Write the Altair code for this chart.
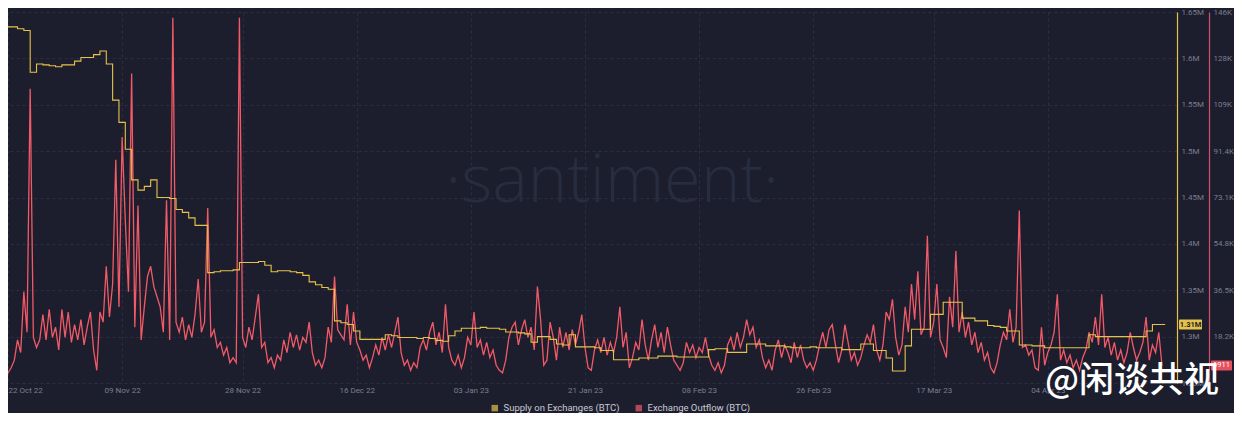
import altair as alt
import pandas as pd

START = "2022-10-21 12:00"
SERIES = ["Supply on Exchanges (BTC)", "Exchange Outflow (BTC)"]
COLORS = ["#e6c24b", "#f25a68"]

# Supply on exchanges (millions of BTC), one value per day
supply_m = [
    1.634, 1.634, 1.632, 1.630, 1.585, 1.594, 1.593, 1.592, 1.591, 1.593,
    1.593, 1.597, 1.601, 1.601, 1.604, 1.608, 1.594, 1.555, 1.531, 1.502,
    1.469, 1.458, 1.462, 1.469, 1.450, 1.450, 1.449, 1.437, 1.434, 1.428,
    1.420, 1.420, 1.369, 1.370, 1.371, 1.371, 1.372, 1.380, 1.380, 1.380,
    1.381, 1.377, 1.370, 1.371, 1.371, 1.370, 1.369, 1.366, 1.359, 1.356,
    1.353, 1.351, 1.317, 1.315, 1.313, 1.306, 1.297, 1.297, 1.297, 1.297,
    1.302, 1.301, 1.299, 1.299, 1.299, 1.298, 1.299, 1.298, 1.296, 1.295,
    1.301, 1.306, 1.309, 1.309, 1.309, 1.310, 1.309, 1.309, 1.308, 1.305,
    1.305, 1.304, 1.303, 1.294, 1.300, 1.300, 1.297, 1.292, 1.291, 1.302,
    1.289, 1.289, 1.289, 1.288, 1.285, 1.285, 1.275, 1.275, 1.275, 1.275,
    1.277, 1.277, 1.277, 1.279, 1.279, 1.279, 1.278, 1.278, 1.278, 1.278,
    1.278, 1.286, 1.287, 1.287, 1.283, 1.283, 1.283, 1.292, 1.292, 1.292,
    1.290, 1.290, 1.290, 1.289, 1.288, 1.288, 1.288, 1.289, 1.288, 1.288,
    1.288, 1.288, 1.286, 1.286, 1.286, 1.292, 1.292, 1.285, 1.285, 1.277,
    1.263, 1.263, 1.290, 1.308, 1.308, 1.308, 1.324, 1.324, 1.337, 1.337,
    1.337, 1.320, 1.320, 1.317, 1.317, 1.312, 1.311, 1.310, 1.306, 1.306,
    1.291, 1.291, 1.290, 1.290, 1.288, 1.288, 1.288, 1.288, 1.288, 1.288,
    1.288, 1.302, 1.300, 1.300, 1.300, 1.300, 1.300, 1.300, 1.300, 1.300,
    1.306, 1.313, 1.313, 1.313,
]

# Exchange outflow (thousands of BTC), one value per 12 hours
outflow_k = [
    3, 4, 6, 9, 17, 12, 36, 20, 116, 18,
    14, 17, 27, 17, 29, 18, 22, 13, 29, 18,
    28, 16, 23, 17, 25, 15, 22, 28, 13, 5,
    28, 24, 46, 26, 39, 88, 30, 97, 64, 36,
    122, 22, 70, 17, 30, 42, 46, 38, 34, 30,
    20, 72, 17, 144, 24, 20, 26, 17, 23, 18,
    27, 41, 20, 24, 69, 18, 21, 14, 16, 11,
    14, 8, 10, 8, 144, 18, 14, 22, 17, 26,
    35, 14, 16, 8, 10, 6, 11, 9, 17, 12,
    20, 14, 19, 13, 18, 16, 24, 12, 7, 9,
    6, 10, 22, 16, 42, 21, 19, 17, 31, 15,
    28, 16, 13, 9, 11, 6, 10, 15, 11, 18,
    13, 19, 14, 20, 26, 12, 7, 9, 5, 8,
    6, 14, 17, 13, 20, 24, 15, 20, 12, 31,
    14, 9, 7, 11, 6, 10, 18, 15, 28, 14,
    17, 11, 16, 10, 13, 7, 5, 4, 9, 18,
    22, 24, 15, 21, 25, 18, 22, 13, 38, 25,
    7, 9, 24, 18, 9, 22, 14, 20, 13, 21,
    15, 20, 27, 14, 6, 5, 13, 17, 12, 18,
    11, 16, 12, 18, 30, 14, 20, 6, 10, 16,
    13, 25, 15, 9, 17, 23, 14, 20, 12, 22,
    15, 9, 7, 5, 8, 16, 12, 15, 10, 14,
    12, 18, 11, 7, 5, 8, 4, 7, 15, 18,
    13, 20, 14, 18, 25, 19, 22, 14, 17, 10,
    6, 9, 5, 13, 17, 10, 15, 12, 8, 16,
    10, 15, 9, 6, 8, 5, 9, 15, 20, 14,
    21, 23, 15, 8, 13, 23, 16, 9, 12, 7,
    10, 15, 19, 16, 23, 13, 9, 15, 28, 25,
    33, 18, 11, 15, 30, 20, 39, 25, 44, 19,
    22, 58, 18, 24, 39, 17, 14, 10, 34, 22,
    52, 20, 28, 18, 24, 15, 20, 12, 16, 9,
    12, 6, 4, 8, 15, 20, 17, 29, 16, 22,
    68, 14, 15, 11, 13, 6, 5, 22, 7, 12,
    15, 20, 35, 9, 13, 8, 11, 6, 9, 5,
    10, 13, 20, 16, 26, 15, 35, 14, 18, 11,
    16, 9, 13, 8, 12, 20, 14, 9, 12, 16,
    26, 9, 15, 12, 20, 6.911,
]

tick_dates = [
    "2022-10-22", "2022-11-09", "2022-11-28", "2022-12-16", "2023-01-03",
    "2023-01-21", "2023-02-08", "2023-02-26", "2023-03-17", "2023-04-04",
]
x_domain = ["2022-10-22 00:00", "2023-04-24 09:00"]
supply_ticks = [1250000, 1300000, 1350000, 1400000, 1450000,
                1500000, 1550000, 1600000, 1650000]
outflow_step = 18280
outflow_tick_labels = ["18.2K", "36.5K", "54.8K", "73.1K", "91.4K",
                       "109K", "128K", "146K"]

W, H = 1169, 371
BG = "#1c1e2d"
LABEL = "#7b7f8e"
GRID = "#2a2e40"
FONT = "Roboto"


def ms(ts):
    """UTC milliseconds for a pandas timestamp / index."""
    return (pd.to_datetime(ts).tz_localize("UTC") - pd.Timestamp("1970-01-01", tz="UTC")) // pd.Timedelta("1ms")


sup_df = pd.DataFrame({
    "t": ms(pd.date_range(START, periods=len(supply_m), freq="D")),
    "v": [m * 1e6 for m in supply_m],
})
out_df = pd.DataFrame({
    "t": ms(pd.date_range(START, periods=len(outflow_k), freq="12h")),
    "v": [k * 1000 for k in outflow_k],
})
sup_last = sup_df.tail(1)
out_last = out_df.tail(1)

x_scale = alt.Scale(
    type="utc", domain=[int(ms(pd.Timestamp(d))) for d in x_domain],
    nice=False, padding=0,
)
x_axis = alt.Axis(
    values=[int(ms(pd.Timestamp(d))) for d in tick_dates],
    labelExpr="utcFormat(datum.value, '%d %b %y')", labelColor=LABEL,
    labelFontSize=8, labelFont=FONT, domain=False, ticks=False,
    labelPadding=3, grid=True, gridColor=GRID, gridDash=[3, 3], gridWidth=1,
)
x_enc = alt.X("t:T", scale=x_scale, axis=x_axis, title=None)

sup_scale = alt.Scale(domain=[1250000, 1650000], nice=False, zero=False)
sup_axis = alt.Axis(
    orient="right", values=supply_ticks, format=".3~s", labelColor=LABEL,
    labelFontSize=8, labelFont=FONT, ticks=False, labelPadding=4,
    domainColor=COLORS[0], domainWidth=1.2, grid=True, gridColor=GRID,
    gridDash=[3, 3], gridWidth=1,
)
out_scale = alt.Scale(domain=[0, outflow_step * 8], nice=False)
label_expr = " : ".join(
    f"round(datum.value/{outflow_step})=={k + 1} ? '{lab}'"
    for k, lab in enumerate(outflow_tick_labels)
) + " : ''"
out_axis = alt.Axis(
    orient="right", offset=32,
    values=[outflow_step * (k + 1) for k in range(len(outflow_tick_labels))],
    labelExpr=label_expr, labelColor=LABEL, labelFontSize=8, labelFont=FONT,
    ticks=False, labelPadding=4, domainColor="#d2506a", domainWidth=1.2,
    grid=False,
)

color_scale = alt.Scale(domain=SERIES, range=COLORS)
legend = alt.Legend(
    orient="none", legendX=482, legendY=391, direction="horizontal",
    title=None, symbolType="square", symbolSize=42, labelColor="#c9cbd3",
    labelFontSize=9.5, labelFont=FONT, columnPadding=14, labelOffset=4,
    symbolStrokeWidth=0,
)

# legend carrier: filled squares of zero size, coloured by series
legend_layer = alt.Chart(pd.DataFrame({"s": SERIES})).mark_square(
    filled=True, size=0
).encode(
    x=alt.value(0), y=alt.value(0),
    color=alt.Color("s:N", scale=color_scale, legend=legend),
)

sup_line = alt.Chart(sup_df).mark_line(
    interpolate="step-after", strokeWidth=1.1, color=COLORS[0], clip=True
).encode(
    x=x_enc,
    y=alt.Y("v:Q", scale=sup_scale, axis=sup_axis, title=None),
)
sup_badge = alt.Chart(sup_last).mark_rect(
    color=COLORS[0], yOffset=-5, y2Offset=5, cornerRadius=1
).encode(
    x=alt.value(W + 2), x2=alt.value(W + 25),
    y=alt.Y("v:Q", scale=sup_scale, axis=sup_axis, title=None), y2="v:Q",
)
sup_text = alt.Chart(sup_last).mark_text(
    color=BG, fontSize=7.5, fontWeight="bold", font=FONT, align="center",
    baseline="middle",
).encode(
    x=alt.value(W + 13.5),
    y=alt.Y("v:Q", scale=sup_scale, axis=sup_axis, title=None),
    text=alt.Text("v:Q", format=".3~s"),
)

out_line = alt.Chart(out_df).mark_line(
    strokeWidth=1.3, color=COLORS[1], clip=True
).encode(
    x=x_enc,
    y=alt.Y("v:Q", scale=out_scale, axis=out_axis, title=None),
)
out_badge = alt.Chart(out_last).mark_rect(
    color="#e8505f", yOffset=-5, y2Offset=5, cornerRadius=1
).encode(
    x=alt.value(W + 34), x2=alt.value(W + 55),
    y=alt.Y("v:Q", scale=out_scale, axis=out_axis, title=None), y2="v:Q",
)
out_text = alt.Chart(out_last).mark_text(
    color="white", fontSize=7.5, font=FONT, align="center", baseline="middle",
).encode(
    x=alt.value(W + 44.5),
    y=alt.Y("v:Q", scale=out_scale, axis=out_axis, title=None),
    text=alt.Text("v:Q", format="d"),
)

santiment_wm = alt.Chart(pd.DataFrame({"s": ["·santiment·"]})).mark_text(
    fontSize=67, font="Open Sans", fontWeight=300, color="#282c3f",
    align="center", baseline="middle",
).encode(x=alt.value(604), y=alt.value(170), text="s:N")

baidu_wm = alt.Chart(pd.DataFrame({"s": ["@闲谈共视"]})).mark_text(
    fontSize=35, font="Noto Sans CJK SC", fontWeight=500, color="white",
    align="center", baseline="middle",
).encode(x=alt.value(1124), y=alt.value(369), text="s:N")

out_group = alt.layer(out_line, out_badge, out_text)
sup_group = alt.layer(sup_line, sup_badge, sup_text)

chart = alt.layer(
    santiment_wm, legend_layer, out_group, sup_group, baidu_wm
).resolve_scale(
    y="independent"
).properties(
    width=W, height=H, padding=0, background=BG,
).configure_view(strokeWidth=0)

chart.save("out.html", embed_options={"renderer": "svg", "actions": False})
